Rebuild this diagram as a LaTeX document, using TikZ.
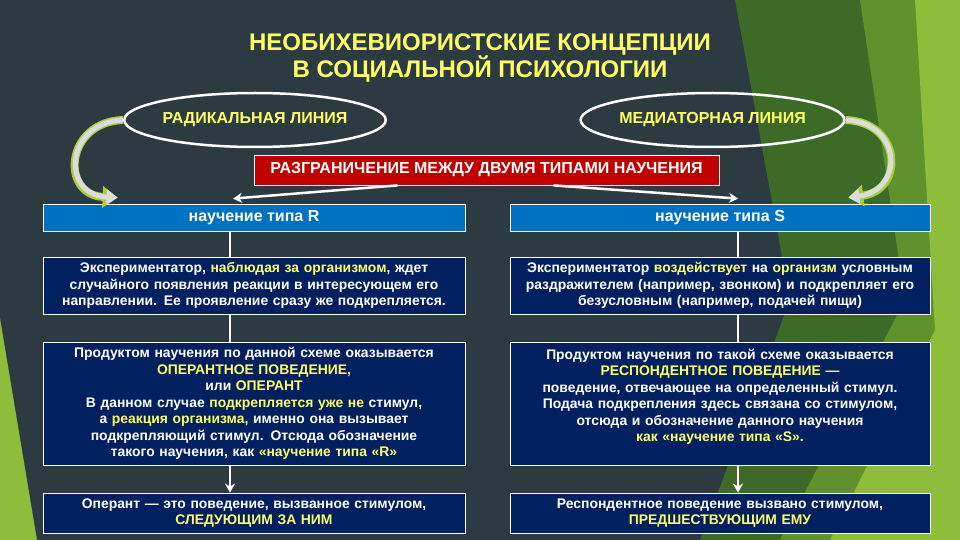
\documentclass[tikz,border=0pt]{standalone}
\usepackage{fontspec}
\setmainfont{Liberation Sans}
\usetikzlibrary{shapes.geometric,calc,arrows.meta}

\definecolor{slate}{HTML}{2C3A41}
\definecolor{darkleaf}{HTML}{3D6A26}
\definecolor{midleaf}{HTML}{5F922D}
\definecolor{lightleaf}{HTML}{8DBD3B}
\definecolor{hdrblue}{HTML}{0070C0}
\definecolor{navybox}{HTML}{002060}
\definecolor{splitred}{HTML}{C00000}
\definecolor{lemon}{HTML}{FFFF66}
\definecolor{arrowgray}{HTML}{DCDCDC}
\definecolor{glowgreen}{HTML}{A5CF3F}

\newcommand{\yel}[1]{\textcolor{lemon}{#1}}
\newcommand{\bodyfont}{\bfseries\fontsize{13.9}{16.5}\selectfont}

\begin{document}
\begin{tikzpicture}[x=1pt,y=-1pt,>={Stealth[length=9pt,width=10pt]},
  line/.style={draw=white,line width=2.8pt},
  hdr/.style={draw=white,thick,fill=hdrblue,text=white,minimum height=27pt,inner sep=0pt,
    font=\bfseries\fontsize{16}{18}\selectfont},
  txtbox/.style={draw=white,thick,fill=navybox,text=white,inner sep=0pt,align=center,font=\bodyfont},
  oval/.style={ellipse,draw=white,line width=2.5pt,minimum height=54pt,inner sep=0pt,text=lemon,
    font=\bfseries\fontsize{16}{18}\selectfont}]
  \useasboundingbox (0,0) rectangle (960,540);

  % background with green facets
  \fill[slate] (0,0) rectangle (960,540);
  \fill[lightleaf] (0,318) -- (37,540) -- (0,540) -- cycle;
  \fill[darkleaf] (735,0) -- (960,0) -- (960,540) -- (700,540) -- (790,300) -- cycle;
  \fill[midleaf] (860,0) -- (960,0) -- (960,540) -- (780,540) -- (905,300) -- cycle;
  \fill[lightleaf] (915,0) -- (960,0) -- (960,540) -- (830,540) -- (935,330) -- cycle;

  % title
  \node[text=lemon,align=center,font=\bfseries\fontsize{24}{27}\selectfont] (title) at (480,58.5)
    {НЕОБИХЕВИОРИСТСКИЕ КОНЦЕПЦИИ\\В СОЦИАЛЬНОЙ ПСИХОЛОГИИ};

  % the two lines
  \node[oval,minimum width=256pt] (radical) at (255,120) {РАДИКАЛЬНАЯ ЛИНИЯ};
  \node[oval,minimum width=252pt] (mediator) at (712.5,120) {МЕДИАТОРНАЯ ЛИНИЯ};

  % red banner
  \node[draw=white,thick,fill=splitred,text=white,minimum width=465pt,minimum height=30pt,inner sep=0pt,
    font=\bfseries\fontsize{16}{18}\selectfont] (split) at (486.5,170)
    {РАЗГРАНИЧЕНИЕ МЕЖДУ ДВУМЯ ТИПАМИ НАУЧЕНИЯ};

  % column R
  \coordinate (lineL) at (230,0);
  \node[hdr,minimum width=422pt] (typeR) at (254,217.5) {научение типа R};
  \node[txtbox,text width=422pt,minimum height=57pt] (expR) at (254,285.5)
    {Экспериментатор, \yel{наблюдая за организмом}, ждет\\
     случайного появления реакции в интересующем его\\
     направлении. Ее проявление сразу же подкрепляется.};
  \node[txtbox,text width=422pt,minimum height=123pt] (prodR) at (254,403.5)
    {Продуктом научения по данной схеме оказывается\\
     \yel{ОПЕРАНТНОЕ ПОВЕДЕНИЕ,}\\
     или \yel{ОПЕРАНТ}\\
     В данном случае \yel{подкрепляется уже не} стимул,\\
     а \yel{реакция организма}, именно она вызывает\\
     подкрепляющий стимул. Отсюда обозначение\\
     такого научения, как \yel{«научение типа «R»}};
  \node[txtbox,text width=422pt,minimum height=40pt] (operR) at (254,513)
    {Оперант — это поведение, вызванное стимулом,\\
     \yel{СЛЕДУЮЩИМ ЗА НИМ}};

  % column S
  \coordinate (lineS) at (738,0);
  \node[hdr,minimum width=420pt] (typeS) at (720,217.5) {научение типа S};
  \node[txtbox,text width=420pt,minimum height=57pt] (expS) at (720,285.5)
    {Экспериментатор \yel{воздействует} на \yel{организм} условным\\
     раздражителем (например, звонком) и подкрепляет его\\
     безусловным (например, подачей пищи)};
  \node[txtbox,text width=420pt,minimum height=123pt] (prodS) at (720,403.5)
    {Продуктом научения по такой схеме оказывается\\
     \yel{РЕСПОНДЕНТНОЕ ПОВЕДЕНИЕ —}\\
     поведение, отвечающее на определенный стимул.\\
     Подача подкрепления здесь связана со стимулом,\\
     отсюда и обозначение данного научения\\
     \yel{как «научение типа «S»}.\\ ~};
  \node[txtbox,text width=420pt,minimum height=40pt] (respS) at (720,513)
    {Респондентное поведение вызвано стимулом,\\
     \yel{ПРЕДШЕСТВУЮЩИМ ЕМУ}};

  % vertical links
  \draw[line] (typeR.south -| lineL) -- (expR.north -| lineL);
  \draw[line] (expR.south -| lineL) -- (prodR.north -| lineL);
  \draw[line,->] (prodR.south -| lineL) -- (operR.north -| lineL);
  \draw[line] (typeS.south -| lineS) -- (expS.north -| lineS);
  \draw[line] (expS.south -| lineS) -- (prodS.north -| lineS);
  \draw[line,->] (prodS.south -| lineS) -- (respS.north -| lineS);

  % banner splits into the two types
  \draw[line,line width=2.5pt,->] ([xshift=-89pt]split.south) -- ($(typeR.north -| lineL)+(3,-5)$);
  \draw[line,line width=2.5pt,->] ([xshift=67pt]split.south) -- ($(typeS.north -| lineS)+(0,-5)$);

  % curved arrows from the ovals
  \coordinate (landR) at ($(typeR.north west)+(75,-6)$);
  \coordinate (landS) at ($(typeS.north east)+(-82,-6)$);
  \draw[glowgreen,line width=8pt,-{Triangle[length=15pt,width=21pt]}]
    (radical.west) .. controls (65,122) and (60,195) .. (landR);
  \draw[arrowgray,line width=5pt,-{Triangle[length=11pt,width=15pt]}]
    (radical.west) .. controls (65,122) and (60,195) .. (landR);
  \draw[glowgreen,line width=8pt,-{Triangle[length=15pt,width=21pt]}]
    (mediator.east) .. controls (902,122) and (905,190) .. (landS);
  \draw[arrowgray,line width=5pt,-{Triangle[length=11pt,width=15pt]}]
    (mediator.east) .. controls (902,122) and (905,190) .. (landS);
\end{tikzpicture}
\end{document}
